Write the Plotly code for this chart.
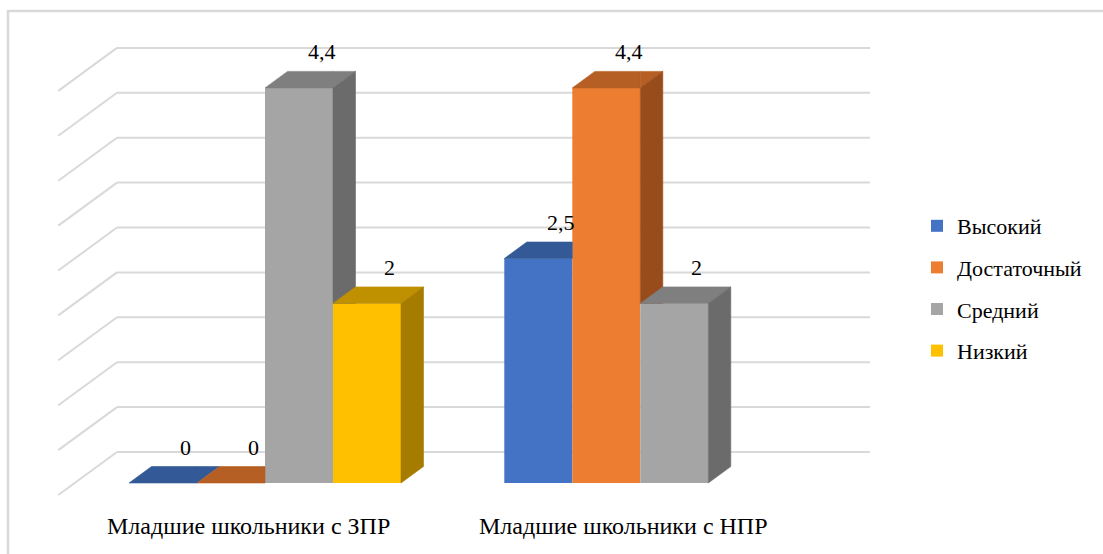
import plotly.graph_objects as go

# ---------------- data ----------------
categories = ["Младшие школьники с ЗПР", "Младшие школьники с НПР"]
series_names = ["Высокий", "Достаточный", "Средний", "Низкий"]
vysokiy = [0, 2.5]
dostatochny = [0, 4.4]
sredniy = [4.4, 2]
nizkiy = [2, None]
grid_values = [0, 0.5, 1, 1.5, 2, 2.5, 3, 3.5, 4, 4.5]

series_values = [vysokiy, dostatochny, sredniy, nizkiy]
front_colors = ["#4472C4", "#ED7D31", "#A5A5A5", "#FFC000"]
top_colors = ["#335A96", "#B55F24", "#7F7F7F", "#BF9000"]
side_colors = ["#2F5290", "#984C1C", "#6B6B6B", "#A67C00"]

# ---------------- geometry (pixel-like x, value y) ----------------
W, H = 1103, 554
PX_PER_UNIT = 89.8
BASE_PX = 483
Y_RANGE = [(BASE_PX - H) / PX_PER_UNIT, BASE_PX / PX_PER_UNIT]
BAR_W = 68
GROUP0 = 265
GROUP_STEP = 375.3
DX = 22.5                       # bar depth, x shift
DV = 16.5 / PX_PER_UNIT         # bar depth, vertical shift (value units)
WALL_BACK_DX = 42.3
WALL_BACK_DV = 31 / PX_PER_UNIT
WALL_FRONT_DX = -16.4
WALL_FRONT_DV = -12 / PX_PER_UNIT
WALL_LEFT = 74.7
WALL_RIGHT = 827.7
FONT = "Liberation Serif"
GRID_COLOR = "#D9D9D9"


def clip(poly, a, b, c):
    """Keep part of convex polygon where a*x + b*y + c >= 0."""
    out = []
    n = len(poly)
    for k in range(n):
        p, q = poly[k], poly[(k + 1) % n]
        fp = a * p[0] + b * p[1] + c
        fq = a * q[0] + b * q[1] + c
        if fp >= 0:
            out.append(p)
        if (fp >= 0) != (fq >= 0):
            t = fp / (fp - fq)
            out.append((p[0] + t * (q[0] - p[0]), p[1] + t * (q[1] - p[1])))
    return out


def area(poly):
    s = 0
    for k in range(len(poly)):
        x1, y1 = poly[k]
        x2, y2 = poly[(k + 1) % len(poly)]
        s += x1 * y2 - x2 * y1
    return abs(s) / 2


def subtract_front(poly, xl, vn):
    """Remove rectangle x>=xl, 0<=y<=vn (front face of the next bar)."""
    if vn is None:
        return [poly]
    pieces = [clip(poly, -1, 0, xl)]
    right = clip(poly, 1, 0, -xl)
    pieces.append(clip(right, 0, 1, -vn) if right else [])
    return [p for p in pieces if len(p) >= 3 and area(p) > 1e-6]


fig = go.Figure()

# front faces (real bars, carry the legend)
for j, (name, vals) in enumerate(zip(series_names, series_values)):
    xs = [GROUP0 + i * GROUP_STEP + (j - 1.5) * BAR_W for i in range(len(categories))]
    fig.add_trace(go.Bar(
        x=xs, y=vals, width=BAR_W, name=name,
        marker=dict(color=front_colors[j], line=dict(width=0)),
        legendgroup=name, hoverinfo="skip",
    ))

# top and side faces, painted left to right
for i in range(len(categories)):
    for j in range(len(series_names)):
        v = series_values[j][i]
        if v is None:
            continue
        x0 = GROUP0 + i * GROUP_STEP + (j - 2) * BAR_W
        x1 = x0 + BAR_W
        vn = series_values[j + 1][i] if j + 1 < len(series_names) else None
        top = [(x0, v), (x1, v), (x1 + DX, v + DV), (x0 + DX, v + DV)]
        side = [(x1, 0), (x1, v), (x1 + DX, v + DV), (x1 + DX, DV)]
        for poly, col in ((top, top_colors[j]), (side, side_colors[j])):
            for piece in subtract_front(poly, x1, vn):
                px = [p[0] for p in piece] + [piece[0][0]]
                py = [p[1] for p in piece] + [piece[0][1]]
                fig.add_trace(go.Scatter(
                    x=px, y=py, mode="lines", fill="toself",
                    fillcolor=col, line=dict(color=col, width=0.6),
                    showlegend=False, hoverinfo="skip",
                ))

# gridlines (back wall + side wall)
shapes = []
for g in grid_values:
    shapes.append(dict(type="line", layer="below", xref="x", yref="y",
                       x0=WALL_LEFT + WALL_BACK_DX, y0=g + WALL_BACK_DV,
                       x1=WALL_RIGHT + WALL_BACK_DX, y1=g + WALL_BACK_DV,
                       line=dict(color=GRID_COLOR, width=2)))
    shapes.append(dict(type="line", layer="below", xref="x", yref="y",
                       x0=WALL_LEFT + WALL_FRONT_DX, y0=g + WALL_FRONT_DV,
                       x1=WALL_LEFT + WALL_BACK_DX, y1=g + WALL_BACK_DV,
                       line=dict(color=GRID_COLOR, width=2)))
# chart border
shapes.append(dict(type="rect", xref="paper", yref="paper", layer="below",
                   x0=8 / W, y0=-0.05, x1=1.05, y1=1 - 11 / H,
                   line=dict(color=GRID_COLOR, width=2.5)))

annotations = []
# data labels
for j in range(len(series_names)):
    for i in range(len(categories)):
        v = series_values[j][i]
        if v is None:
            continue
        xc = GROUP0 + i * GROUP_STEP + (j - 1.5) * BAR_W
        annotations.append(dict(
            x=xc + DX, y=v + DV, xref="x", yref="y",
            text=f"{v:g}".replace(".", ","), showarrow=False,
            yanchor="bottom", yshift=5,
            font=dict(family=FONT, size=22, color="#000000"),
        ))
# category labels
for i, cat in enumerate(categories):
    annotations.append(dict(
        x=GROUP0 + i * GROUP_STEP - 17, y=(BASE_PX - 526) / PX_PER_UNIT,
        xref="x", yref="y", text=cat, showarrow=False,
        font=dict(family=FONT, size=24, color="#000000"),
    ))

fig.update_layout(
    width=W, height=H, autosize=False,
    margin=dict(l=0, r=0, t=0, b=0),
    paper_bgcolor="white", plot_bgcolor="white",
    barmode="overlay",
    font=dict(family=FONT),
    xaxis=dict(range=[0, W], visible=False, fixedrange=True),
    yaxis=dict(range=Y_RANGE, visible=False, fixedrange=True),
    shapes=shapes, annotations=annotations,
    showlegend=True,
    legend=dict(
        x=917 / W, y=1 - 288.5 / H, xanchor="left", yanchor="middle",
        font=dict(family=FONT, size=22, color="#000000"),
        tracegroupgap=10, bgcolor="rgba(0,0,0,0)",
    ),
)

fig.write_html("out.html")
